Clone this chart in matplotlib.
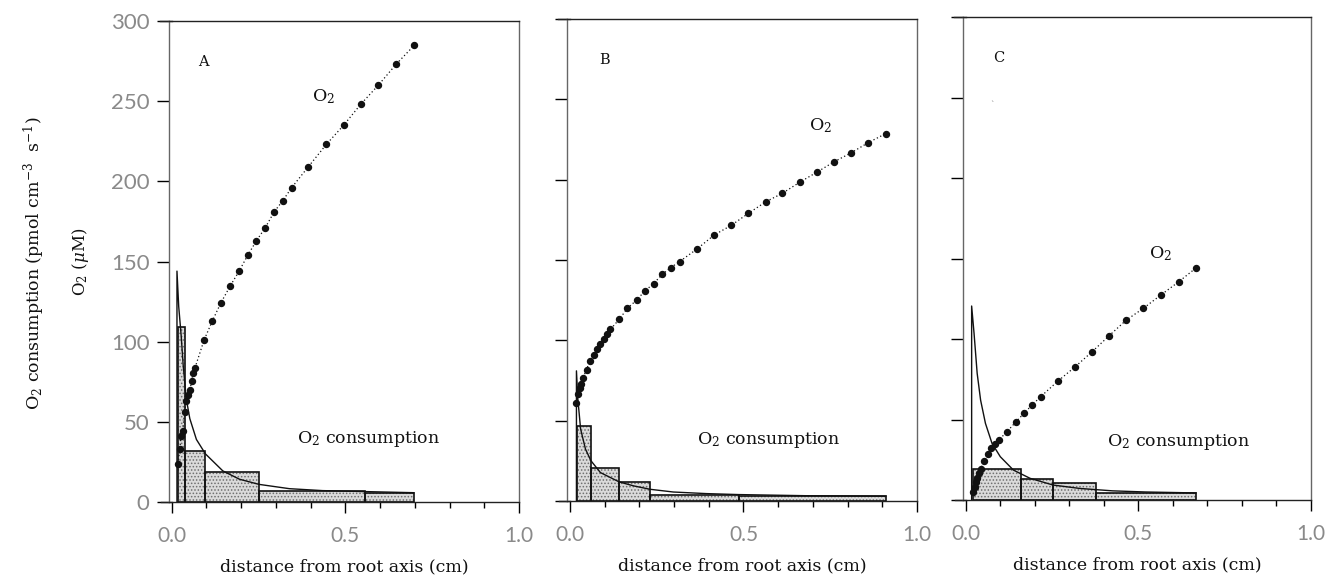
import matplotlib
matplotlib.use("Agg")
import matplotlib.pyplot as plt
from matplotlib.ticker import MultipleLocator

plt.rcParams["mathtext.fontset"] = "dejavuserif"
plt.rcParams["hatch.linewidth"] = 0.7

# ---- data ---------------------------------------------------------------
# panel A
a_o2_x = [0.018, 0.023, 0.027, 0.031, 0.037, 0.042, 0.047, 0.052, 0.058, 0.061,
          0.067, 0.093, 0.117, 0.141, 0.169, 0.194, 0.219, 0.244, 0.269, 0.295,
          0.320, 0.345, 0.393, 0.445, 0.495, 0.544, 0.595, 0.646, 0.699]
a_o2_y = [24, 33, 41, 44, 56, 63, 67, 70, 75.6, 80.4, 83.7, 101, 113, 124, 135,
          144, 154, 163, 171, 181, 188, 196, 209, 223, 235, 248, 260, 273, 285]
a_bar_edges = [0.018, 0.037, 0.097, 0.252, 0.556, 0.697]
a_bar_h = [109, 32, 19, 6.8, 5.6]
a_fit_x = [0.015, 0.015, 0.020, 0.027, 0.033, 0.042, 0.052, 0.071, 0.097, 0.147,
           0.195, 0.251, 0.339, 0.434, 0.556, 0.697]
a_fit_y = [0, 144, 122, 104, 85, 64, 52, 39, 30, 19.4, 14.2, 11, 8.3, 7.1, 6.5, 5.8]

# panel B
b_o2_x = [0.019, 0.024, 0.029, 0.033, 0.038, 0.048, 0.057, 0.069, 0.078, 0.088,
          0.098, 0.107, 0.117, 0.142, 0.166, 0.192, 0.216, 0.241, 0.266, 0.290,
          0.316, 0.367, 0.416, 0.465, 0.514, 0.564, 0.612, 0.662, 0.711, 0.760,
          0.810, 0.859, 0.910]
b_o2_y = [61, 66.7, 70.2, 72.9, 76.7, 81.7, 86.9, 90.6, 94.8, 97.9, 101, 104.2,
          106.9, 113, 120, 125, 130.7, 135.3, 141, 145.2, 149, 157, 165.6, 171.6,
          179, 186.2, 191.5, 198.4, 204.6, 211, 216.7, 223, 228.7]
b_bar_edges = [0.021, 0.061, 0.142, 0.231, 0.487, 0.910]
b_bar_h = [46.7, 20.4, 12.1, 3.6, 3.1]
b_fit_x = [0.019, 0.019, 0.023, 0.031, 0.045, 0.061, 0.088, 0.142, 0.184, 0.231,
           0.298, 0.394, 0.487, 0.68, 0.91]
b_fit_y = [0, 81, 63.5, 44.8, 32.3, 25, 17.7, 11.9, 9.4, 7.3, 5.6, 4.6, 4.0, 3.3, 3.0]

# panel C
c_o2_x = [0.021, 0.027, 0.031, 0.033, 0.038, 0.043, 0.053, 0.064, 0.074, 0.086,
          0.096, 0.119, 0.146, 0.170, 0.192, 0.217, 0.267, 0.317, 0.366, 0.415,
          0.465, 0.514, 0.566, 0.617, 0.666]
c_o2_y = [5.2, 8.3, 11.4, 13.9, 16.6, 19, 24.4, 28.6, 32.1, 34.8, 37.3, 42.4,
          48.7, 54.2, 59, 64.2, 73.9, 82.8, 92.1, 102, 111.8, 119, 127.5, 135.6, 144]
c_bar_edges = [0.021, 0.160, 0.254, 0.376, 0.667]
c_bar_h = [19, 12.8, 10.8, 4.6]
c_fit_x = [0.017, 0.017, 0.024, 0.033, 0.043, 0.057, 0.076, 0.100, 0.138, 0.186,
           0.253, 0.33, 0.425, 0.52, 0.667]
c_fit_y = [0, 120.5, 103.5, 78.7, 62, 47.6, 35.2, 26.9, 18.6, 13.5, 9.3, 7.2,
           5.7, 5.0, 4.4]

x_ticks = [0.0, 0.5, 1.0]
x_tick_labels = ["0.0", "0.5", "1.0"]
y_ticks = [0, 50, 100, 150, 200, 250, 300]

SERIF = "DejaVu Serif"
TICK_FONT = ["Lato", "DejaVu Sans"]
TICK_COLOR = "#8a8a8a"
INK = "#111111"


def draw_panel(ax, o2_x, o2_y, edges, heights, fit_x, fit_y, letter,
               o2_lab, cons_lab, show_ylabels):
    lefts = edges[:-1]
    widths = [r - l for l, r in zip(edges[:-1], edges[1:])]
    # stippled fill then black outline
    ax.bar(lefts, heights, width=widths, align="edge", color="#dadada",
           hatch=".....", edgecolor="#6e6e6e", linewidth=0, zorder=1)
    ax.bar(lefts, heights, width=widths, align="edge", fill=False,
           edgecolor=INK, linewidth=1.2, zorder=2)
    ax.plot(fit_x, fit_y, color=INK, lw=1.0, zorder=3)
    ax.plot(o2_x, o2_y, ls=(0, (1, 2)), color=INK, lw=0.9, marker="o", ms=4.3,
            mfc=INK, mec=INK, zorder=4)

    ax.set_xlim(-0.008, 1.0)
    ax.set_ylim(0, 300)
    ax.set_xticks(x_ticks)
    ax.set_xticklabels(x_tick_labels)
    ax.xaxis.set_minor_locator(MultipleLocator(0.1))
    ax.set_yticks(y_ticks)
    if not show_ylabels:
        ax.set_yticklabels([])
    ax.tick_params(axis="x", which="major", direction="out", length=8, width=1,
                   pad=9, labelsize=15, labelcolor=TICK_COLOR)
    ax.tick_params(axis="x", which="minor", direction="out", length=4, width=1)
    ax.tick_params(axis="y", direction="out", length=9, width=1, pad=5,
                   labelsize=16, labelcolor=TICK_COLOR)
    for lab in ax.get_xticklabels() + ax.get_yticklabels():
        lab.set_family(TICK_FONT)
        lab.set_fontweight("normal")
    for name, sp in ax.spines.items():
        sp.set_linewidth(1.0)
        sp.set_color("#222222" if name in ("top", "bottom") else "#666666")

    # top / bottom frame lines run a little past the left spine
    ax.plot([-0.035, 0], [300, 300], color="#222222", lw=1.0, clip_on=False)
    ax.plot([-0.03, 0], [0, 0], color="#222222", lw=1.0, clip_on=False)

    ax.text(letter[1], letter[2], letter[0], fontsize=10.5, family=SERIF, color=INK)
    ax.text(o2_lab[0], o2_lab[1], "O$_2$", fontsize=12.5, family=SERIF, color=INK)
    ax.text(cons_lab[0], cons_lab[1], "O$_2$ consumption", fontsize=12.5,
            family=SERIF, color=INK, va="center")
    ax.set_xlabel("distance from root axis (cm)", fontsize=12.5, family=SERIF,
                  labelpad=9, color=INK)


fig = plt.figure(figsize=(13.39, 5.79), dpi=100)
axA = fig.add_axes([0.1262, 0.1330, 0.2614, 0.8307])
axB = fig.add_axes([0.4235, 0.1347, 0.2614, 0.8325])
axC = fig.add_axes([0.7192, 0.1364, 0.2599, 0.8342])

draw_panel(axA, a_o2_x, a_o2_y, a_bar_edges, a_bar_h, a_fit_x, a_fit_y,
           ("A", 0.075, 272), (0.405, 250), (0.36, 39), True)
draw_panel(axB, b_o2_x, b_o2_y, b_bar_edges, b_bar_h, b_fit_x, b_fit_y,
           ("B", 0.085, 272), (0.69, 231), (0.365, 38), False)
draw_panel(axC, c_o2_x, c_o2_y, c_bar_edges, c_bar_h, c_fit_x, c_fit_y,
           ("C", 0.078, 272), (0.53, 150), (0.41, 36), False)

# small speck in panel C
axC.text(0.07, 244, "`", fontsize=6, color="#777777", family=SERIF)

# y-axis labels (two stacked)
fig.text(0.026, 0.545, "O$_2$ consumption (pmol cm$^{-3}$  s$^{-1}$)", rotation=90,
         ha="center", va="center", fontsize=12.5, family=SERIF, color=INK)
fig.text(0.060, 0.548, "O$_2$ ($\\mu$M)", rotation=90, ha="center", va="center",
         fontsize=12, family=SERIF, color=INK)

fig.savefig("out.png", dpi=100, facecolor="white")
